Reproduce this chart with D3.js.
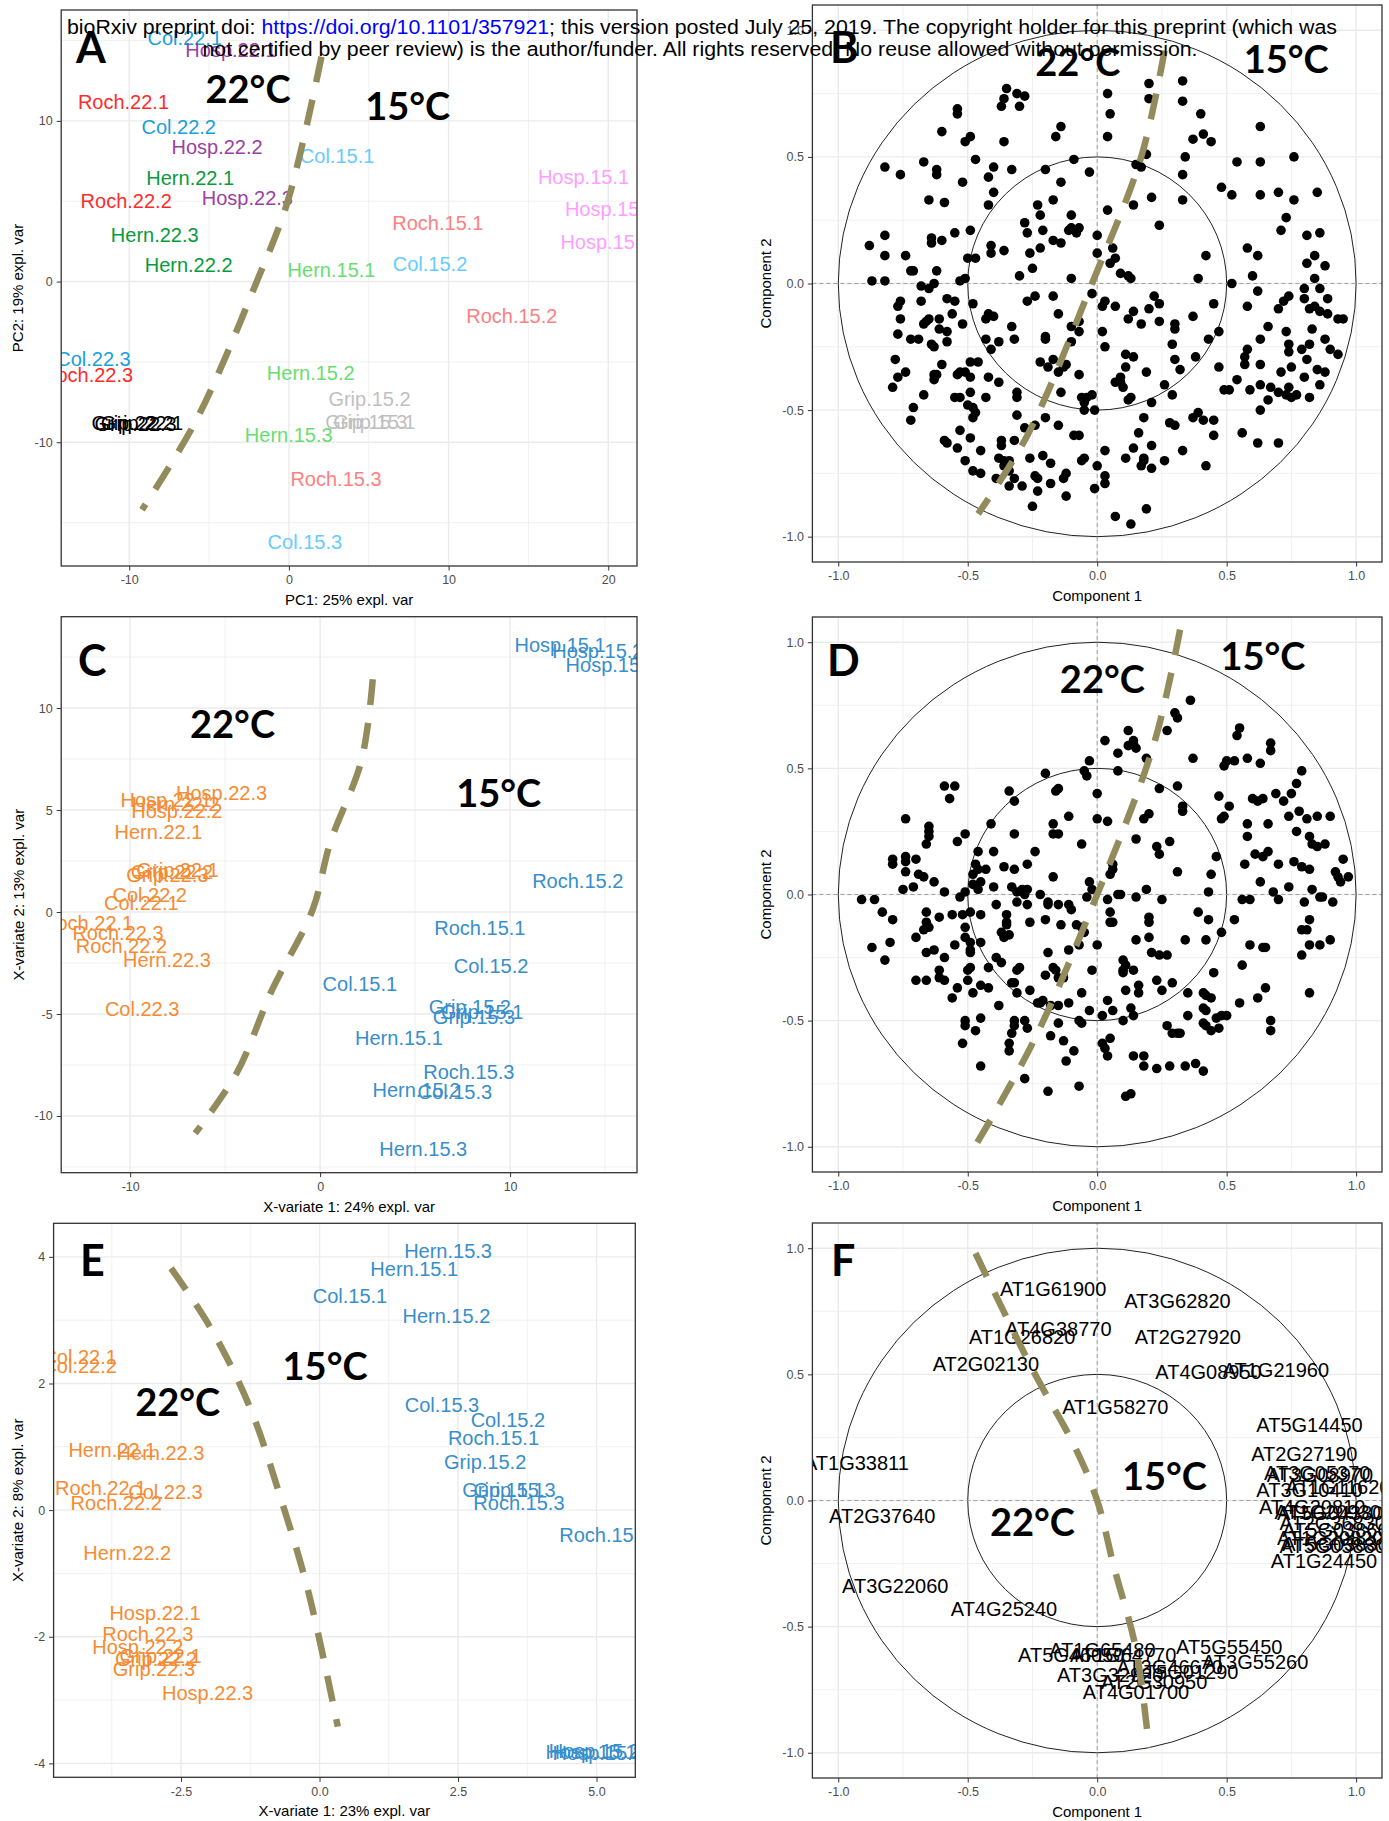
<!DOCTYPE html>
<html>
<head>
<meta charset="utf-8">
<script src="https://cdn.jsdelivr.net/npm/d3@7"></script>
<style>
  body { margin: 0; background: #fff; }
  svg text { font-family: "Liberation Sans", Arial, sans-serif; }
</style>
</head>
<body>
<svg id="fig" width="1389" height="1821"></svg>
<script>
// ---------------------------------------------------------------------------
// Sample scores (30 samples: 5 accessions x 2 temperatures x 3 replicates)
// ---------------------------------------------------------------------------
const sampleNames = [
  "Col.22.1","Col.22.2","Col.22.3","Grip.22.1","Grip.22.2","Grip.22.3",
  "Hern.22.1","Hern.22.2","Hern.22.3","Hosp.22.1","Hosp.22.2","Hosp.22.3",
  "Roch.22.1","Roch.22.2","Roch.22.3",
  "Col.15.1","Col.15.2","Col.15.3","Grip.15.1","Grip.15.2","Grip.15.3",
  "Hern.15.1","Hern.15.2","Hern.15.3","Hosp.15.1","Hosp.15.2","Hosp.15.3",
  "Roch.15.1","Roch.15.2","Roch.15.3"
];

// A: PCA
const pcaPC1 = [-6.52,-6.90,-12.24,-9.20,-9.79,-9.60, -6.18,-6.28,-8.40, -3.63,-4.50,-2.60, -10.36,-10.19,-12.61,
                3.02,8.84,1.00, 5.35,5.05,4.85, 2.67,1.37,-0.01, 18.45,20.14,19.86, 9.33,13.96,2.95];
const pcaPC2 = [15.17,9.64,-4.83,-8.81,-8.81,-8.85, 6.43,1.04,2.90, 14.41,8.36,5.19, 11.19,5.04,-5.80,
                7.82,1.08,-16.17, -8.71,-7.30,-8.71, 0.73,-5.70,-9.53, 6.49,4.52,2.49, 3.67,-2.13,-12.29];

// C: PLS-DA
const plsX1 = [-9.41,-8.97,-9.37,-7.50,-7.80,-8.04, -8.51,-7.60,-8.06, -8.11,-7.54,-5.19, -12.24,-10.46,-10.64,
               2.09,9.00,7.09, 8.53,7.88,8.10, 4.15,5.07,5.43, 12.63,14.62,15.32, 8.41,13.56,7.83];
const plsX2 = [0.43,0.83,-4.72,2.06,1.95,1.85, 3.94,5.30,-2.35, 5.49,4.95,5.85, -0.55,-1.67,-1.01,
               -3.50,-2.65,-8.81, -4.89,-4.67,-5.16, -6.19,-8.73,-11.63, 13.09,12.81,12.14, -0.77,1.54,-7.83];

// E: sPLS-DA
const splsX1 = [-4.33,-4.33,-2.78,-2.87,-2.95,-2.99, -3.74,-3.47,-2.87, -2.97,-3.28,-2.02, -3.95,-3.67,-3.10,
                0.55,3.40,2.21, 3.32,2.99,3.52, 1.71,2.29,2.32, 4.90,4.96,5.03, 3.14,5.15,3.60];
const splsX2 = [2.42,2.28,0.29,-2.30,-2.35,-2.50, 0.95,-0.68,0.91, -1.62,-2.16,-2.89, 0.35,0.11,-1.95,
                3.38,1.43,1.66, 0.32,0.76,0.32, 3.81,3.07,4.10, -3.82,-3.80,-3.84, 1.14,-0.39,0.11];

// Per accession/temperature label colours (PCA) and per-temperature colours (PLS-DA)
const pcaColours = {
  "Col.22":"#1A9FDB","Col.15":"#66CCFF","Grip.22":"#000000","Grip.15":"#BFBFBF",
  "Hern.22":"#0A9A3C","Hern.15":"#6ADD70","Hosp.22":"#9B3FA5","Hosp.15":"#FF9EFF",
  "Roch.22":"#FF2B2B","Roch.15":"#FF8080"
};
const tempColours = { "22":"#F68B33", "15":"#388ECC" };

// ---------------------------------------------------------------------------
// B: correlation circle, PCA variables
// ---------------------------------------------------------------------------
const pcaVarC1 = [0.33,0.20,-0.35,-0.31,-0.28,0.04,-0.36,0.20,0.33,-0.37,-0.30,-0.54,-0.54,0.05,0.40,-0.14,0.63,-0.60,0.41,-0.49,
-0.51,-0.16,0.04,0.37,0.44,-0.36,0.19,0.34,-0.09,-0.47,-0.67,0.54,0.63,0.76,0.15,0.17,-0.82,-0.40,-0.33,-0.62,
-0.20,-0.76,-0.62,-0.03,0.33,-0.42,-0.14,-0.52,0.48,-0.40,-0.65,0.52,0.63,0.70,0.85,0.21,-0.17,0.76,-0.59,0.33,
0.14,-0.42,-0.23,0.04,-0.22,-0.10,-0.28,0.73,0.24,-0.10,-0.07,-0.08,-0.21,-0.11,0.71,0.86,-0.82,-0.55,-0.49,-0.27,
0.00,0.81,-0.88,-0.64,-0.60,-0.64,-0.17,-0.14,-0.41,-0.22,-0.36,0.58,0.06,0.07,-0.26,-0.41,-0.74,-0.82,0.00,0.42,
0.62,0.84,-0.50,-0.47,0.05,0.81,0.88,-0.25,-0.62,-0.72,-0.71,0.09,0.12,0.13,-0.30,0.60,0.39,-0.53,-0.51,-0.10,
-0.82,-0.87,-0.68,-0.65,-0.63,0.52,0.84,0.80,0.86,0.62,-0.02,0.74,-0.17,-0.24,0.22,-0.58,-0.55,0.72,-0.76,-0.68,
-0.27,0.03,0.24,-0.48,0.45,0.80,0.89,-0.77,0.02,0.07,0.20,0.14,0.84,0.82,0.86,0.89,0.58,0.70,-0.56,-0.42,
-0.40,-0.76,-0.43,-0.66,-0.65,-0.61,-0.15,0.12,0.37,0.93,0.95,-0.67,-0.52,0.17,0.24,0.30,-0.10,-0.07,-0.33,0.66,
0.83,-0.61,-0.58,0.02,0.30,0.47,-0.07,0.73,-0.77,0.63,0.88,-0.20,-0.20,-0.43,-0.32,0.43,-0.38,-0.10,-0.72,-0.69,
-0.64,-0.63,-0.58,0.29,0.74,0.82,-0.41,0.03,0.58,0.79,0.90,0.74,0.93,0.11,0.14,0.57,0.81,-0.78,-0.49,0.30,
0.38,-0.22,-0.17,-0.12,0.57,0.63,-0.60,-0.46,-0.19,-0.13,0.11,0.47,0.75,-0.74,-0.53,-0.51,0.19,0.32,0.71,0.85,
0.88,-0.77,-0.63,-0.62,-0.54,-0.49,-0.42,-0.15,-0.07,0.09,-0.63,-0.38,0.09,0.54,0.80,0.07,0.26,0.86,-0.79,0.10,
0.63,0.67,0.74,0.49,0.51,0.59,-0.31,-0.14,0.70,0.75,0.77,-0.49,0.82,-0.53,-0.55,-0.43,-0.31,-0.67,0.29,0.73,
-0.02,-0.04,-0.06,-0.05,0.13,0.12,-0.50,-0.48,-0.71,0.66,0.21,0.63,-0.01,-0.05,-0.47,-0.48,-0.31,-0.20,0.18,0.39,
0.37,0.41,0.45,-0.72,0.28,0.30,-0.15,-0.28,-0.24,-0.53,0.16,0.56,-0.09,-0.07,0.45,-0.49,-0.59,-0.58,-0.37,-0.32,
0.62,0.70,0.14,0.33,0.03,-0.54,-0.37,-0.45,-0.21,0.21,0.11,-0.26,0.18,0.26,-0.05,-0.06,-0.51,-0.38,-0.36,-0.34,
-0.36,0.18,0.17,0.42,-0.18,0.00,-0.48,-0.45,-0.32,-0.34,-0.12,-0.24,-0.34,-0.23,-0.13,0.03,0.21,-0.18,-0.39,-0.29,
0.03,-0.01,-0.23,-0.12,-0.25,0.19,0.07,0.13];
const pcaVarC2 = [0.80,0.79,0.77,0.75,0.74,0.75,0.73,0.73,0.72,0.70,0.70,0.69,0.67,0.67,0.67,0.62,0.62,0.60,0.59,0.58,
0.56,0.58,0.58,0.57,0.56,0.56,0.51,0.50,0.49,0.49,0.48,0.48,0.48,0.50,0.47,0.46,0.46,0.46,0.45,0.45,
0.45,0.43,0.43,0.44,0.43,0.42,0.40,0.40,0.38,0.36,0.33,0.35,0.35,0.36,0.36,0.34,0.33,0.33,0.32,0.33,
0.31,0.31,0.31,0.29,0.27,0.27,0.24,0.26,0.23,0.22,0.22,0.20,0.21,0.21,0.21,0.20,0.19,0.20,0.21,0.20,
0.19,0.19,0.15,0.18,0.17,0.16,0.17,0.16,0.15,0.14,0.13,0.14,0.14,0.10,0.12,0.12,0.11,0.11,0.12,0.11,
0.11,0.11,0.10,0.10,0.08,0.08,0.07,0.06,0.05,0.05,0.05,0.04,0.03,0.02,0.03,0.03,0.02,0.01,0.02,0.02,
0.01,0.01,-0.01,-0.02,0.00,0.00,0.02,-0.02,-0.02,-0.03,-0.04,-0.05,-0.05,-0.05,-0.05,-0.06,-0.07,-0.07,-0.07,-0.07,
-0.07,-0.07,-0.08,-0.08,-0.08,-0.06,-0.06,-0.09,-0.09,-0.09,-0.10,-0.11,-0.09,-0.10,-0.11,-0.12,-0.09,-0.10,-0.12,-0.12,
-0.13,-0.14,-0.14,-0.15,-0.14,-0.14,-0.12,-0.14,-0.13,-0.14,-0.14,-0.16,-0.16,-0.16,-0.15,-0.16,-0.17,-0.15,-0.17,-0.17,
-0.18,-0.18,-0.19,-0.19,-0.18,-0.19,-0.19,-0.19,-0.20,-0.22,-0.22,-0.21,-0.22,-0.22,-0.22,-0.22,-0.23,-0.23,-0.22,-0.22,
-0.24,-0.25,-0.23,-0.24,-0.24,-0.24,-0.26,-0.25,-0.26,-0.26,-0.26,-0.27,-0.28,-0.28,-0.29,-0.29,-0.30,-0.30,-0.31,-0.30,
-0.29,-0.31,-0.30,-0.32,-0.32,-0.32,-0.32,-0.31,-0.33,-0.33,-0.33,-0.33,-0.33,-0.35,-0.35,-0.35,-0.35,-0.34,-0.35,-0.34,
-0.35,-0.37,-0.36,-0.36,-0.36,-0.37,-0.37,-0.35,-0.36,-0.37,-0.38,-0.39,-0.39,-0.38,-0.37,-0.39,-0.40,-0.40,-0.41,-0.41,
-0.40,-0.41,-0.41,-0.42,-0.42,-0.42,-0.43,-0.43,-0.43,-0.45,-0.44,-0.43,-0.45,-0.45,-0.45,-0.45,-0.45,-0.44,-0.44,-0.44,
-0.44,-0.45,-0.45,-0.47,-0.45,-0.46,-0.48,-0.49,-0.49,-0.46,-0.47,-0.50,-0.50,-0.50,-0.51,-0.53,-0.52,-0.53,-0.53,-0.51,
-0.53,-0.54,-0.54,-0.54,-0.55,-0.56,-0.56,-0.57,-0.56,-0.58,-0.59,-0.59,-0.60,-0.60,-0.60,-0.61,-0.62,-0.63,-0.62,-0.62,
-0.63,-0.63,-0.65,-0.66,-0.66,-0.65,-0.64,-0.66,-0.68,-0.64,-0.69,-0.69,-0.69,-0.70,-0.69,-0.70,-0.70,-0.69,-0.70,-0.70,
-0.72,-0.70,-0.72,-0.72,-0.71,-0.72,-0.74,-0.75,-0.77,-0.74,-0.75,-0.76,-0.80,-0.77,-0.77,-0.76,-0.73,-0.79,-0.77,-0.80,
-0.79,-0.81,-0.82,-0.84,-0.88,-0.89,-0.92,-0.95];

// ---------------------------------------------------------------------------
// D: correlation circle, PLS-DA variables
// ---------------------------------------------------------------------------
const plsVarC1 = [0.36,0.30,0.31,0.27,0.55,0.54,0.12,0.67,0.03,0.14,0.14,0.12,0.15,0.67,0.08,0.37,0.53,0.58,0.50,0.49,
0.63,0.19,-0.03,-0.05,-0.04,-0.20,0.08,0.79,0.77,-0.59,-0.55,-0.57,-0.34,-0.15,-0.16,0.31,0.24,0.00,0.75,0.69,
0.60,0.62,0.64,0.72,0.47,0.51,-0.32,0.33,0.33,0.18,0.20,0.48,0.49,0.74,0.78,0.85,0.90,0.81,-0.74,-0.11,
0.00,0.04,0.58,0.66,-0.17,-0.41,-0.65,-0.65,-0.65,-0.51,-0.32,-0.17,-0.15,0.77,0.82,0.83,0.85,0.88,0.15,0.58,
-0.66,-0.54,-0.06,0.23,0.24,0.28,0.61,0.64,0.66,0.95,-0.46,-0.40,-0.24,-0.79,-0.79,-0.74,-0.74,-0.70,-0.74,0.06,
0.46,0.57,0.70,0.76,0.79,0.82,0.92,0.93,0.97,-0.47,-0.46,-0.43,-0.36,-0.32,-0.27,0.06,0.31,0.44,-0.69,-0.67,
-0.48,-0.45,-0.17,0.05,0.94,0.74,0.63,0.83,-0.71,-0.63,-0.75,-0.48,-0.46,-0.40,-0.33,-0.29,-0.27,-0.03,-0.02,0.19,
0.43,0.68,0.70,0.86,0.87,0.91,0.56,0.80,-0.91,-0.86,-0.59,-0.51,-0.53,-0.31,-0.28,-0.22,-0.31,-0.27,-0.39,-0.19,
-0.19,-0.15,-0.11,-0.10,-0.04,0.04,0.08,0.15,0.25,0.09,0.59,-0.83,-0.79,-0.66,-0.56,-0.52,-0.49,-0.45,-0.35,0.05,
0.06,0.05,0.39,0.43,0.53,0.20,0.20,-0.66,-0.65,-0.61,-0.67,-0.35,-0.35,-0.26,-0.20,-0.14,-0.08,-0.05,-0.06,0.48,
0.81,0.79,0.82,-0.51,-0.70,-0.63,-0.66,-0.59,-0.80,-0.87,-0.82,-0.55,-0.51,-0.49,-0.49,-0.49,-0.45,-0.36,-0.37,-0.34,
-0.19,-0.11,-0.07,0.00,0.15,0.20,0.21,0.24,0.27,0.34,0.42,0.59,0.64,0.65,0.82,0.86,0.90,0.79,-0.39,-0.37,
-0.30,-0.31,-0.17,-0.16,-0.13,-0.02,0.10,0.11,0.10,0.10,0.14,-0.61,-0.61,-0.49,-0.50,-0.42,0.56,-0.20,-0.15,-0.32,
-0.70,-0.66,-0.59,-0.50,-0.45,-0.42,-0.54,-0.48,-0.33,-0.31,-0.26,-0.06,0.11,0.16,0.16,0.23,0.25,0.29,0.35,0.41,
0.42,0.44,0.45,0.65,0.62,0.55,0.82,-0.56,-0.38,-0.23,-0.22,-0.21,-0.18,-0.15,-0.11,0.04,-0.03,0.02,0.06,0.10,
0.13,0.14,0.41,0.42,0.41,0.42,0.44,0.46,0.48,0.50,0.47,0.67,0.67,-0.51,-0.51,-0.45,-0.47,-0.52,-0.32,-0.32,
-0.28,-0.27,-0.33,-0.34,-0.34,-0.15,-0.07,-0.06,-0.18,-0.13,-0.09,-0.12,0.02,0.05,0.03,0.04,0.27,0.29,0.31,0.32,
0.35,0.38,0.41,0.34,0.28,0.23,0.14,0.18,0.18,-0.45,-0.28,-0.19,-0.07,0.11,0.13];
const plsVarC2 = [0.77,0.72,0.70,0.65,0.66,0.63,0.65,0.60,0.61,0.61,0.60,0.59,0.58,0.57,0.56,0.54,0.53,0.54,0.53,0.51,
0.52,0.54,0.53,0.49,0.47,0.48,0.49,0.49,0.44,0.43,0.43,0.38,0.41,0.42,0.41,0.43,0.42,0.40,0.40,0.40,
0.38,0.37,0.38,0.37,0.39,0.35,0.37,0.35,0.33,0.30,0.32,0.30,0.31,0.31,0.33,0.31,0.31,0.30,0.30,0.31,
0.30,0.29,0.28,0.28,0.28,0.28,0.27,0.25,0.23,0.24,0.24,0.24,0.24,0.25,0.23,0.20,0.19,0.20,0.22,0.23,
0.20,0.21,0.20,0.19,0.16,0.21,0.16,0.15,0.17,0.14,0.17,0.17,0.17,0.14,0.12,0.15,0.13,0.14,0.09,0.12,
0.15,0.12,0.12,0.13,0.11,0.10,0.09,0.07,0.07,0.12,0.10,0.10,0.11,0.10,0.12,0.10,0.09,0.08,0.08,0.07,
0.08,0.05,0.07,0.08,0.05,0.03,0.05,0.02,0.03,0.05,0.02,0.04,0.02,0.03,0.03,0.02,0.02,0.05,0.02,0.02,
0.01,0.01,-0.02,-0.01,-0.01,-0.03,-0.02,-0.03,-0.02,-0.02,0.01,0.01,-0.01,0.01,0.00,0.00,-0.03,-0.04,-0.04,-0.03,
-0.04,-0.04,-0.04,-0.06,-0.01,-0.02,0.00,-0.01,-0.02,0.00,-0.02,-0.07,-0.10,-0.07,-0.08,-0.08,-0.07,-0.08,-0.08,-0.07,
-0.11,-0.11,-0.07,-0.10,-0.10,-0.09,-0.11,-0.11,-0.13,-0.09,-0.14,-0.11,-0.12,-0.11,-0.10,-0.12,-0.12,-0.15,-0.13,-0.15,
-0.14,-0.14,-0.10,-0.13,-0.17,-0.22,-0.23,-0.25,-0.19,-0.21,-0.26,-0.20,-0.17,-0.19,-0.22,-0.23,-0.19,-0.17,-0.15,-0.16,
-0.23,-0.22,-0.20,-0.20,-0.18,-0.17,-0.23,-0.24,-0.24,-0.18,-0.18,-0.20,-0.21,-0.21,-0.20,-0.20,-0.18,-0.24,-0.25,-0.27,
-0.29,-0.30,-0.29,-0.30,-0.33,-0.30,-0.26,-0.28,-0.30,-0.31,-0.30,-0.30,-0.33,-0.29,-0.30,-0.29,-0.28,-0.32,-0.33,-0.35,
-0.34,-0.34,-0.34,-0.34,-0.36,-0.37,-0.37,-0.39,-0.35,-0.39,-0.38,-0.39,-0.38,-0.36,-0.39,-0.34,-0.38,-0.35,-0.39,-0.39,
-0.40,-0.41,-0.31,-0.37,-0.41,-0.43,-0.39,-0.41,-0.44,-0.43,-0.43,-0.42,-0.44,-0.44,-0.43,-0.42,-0.46,-0.48,-0.46,-0.50,
-0.45,-0.48,-0.45,-0.46,-0.51,-0.52,-0.54,-0.49,-0.48,-0.48,-0.53,-0.50,-0.54,-0.50,-0.52,-0.49,-0.54,-0.59,-0.50,-0.52,
-0.50,-0.53,-0.55,-0.59,-0.62,-0.51,-0.50,-0.51,-0.56,-0.58,-0.62,-0.66,-0.59,-0.57,-0.61,-0.64,-0.52,-0.55,-0.55,-0.55,
-0.48,-0.67,-0.70,-0.68,-0.68,-0.69,-0.64,-0.64,-0.68,-0.68,-0.73,-0.78,-0.76,-0.80,-0.79];

// ---------------------------------------------------------------------------
// F: correlation circle, sPLS-DA selected genes
// ---------------------------------------------------------------------------
const geneNames = ["AT1G61900","AT3G62820","AT1G26820","AT4G38770","AT2G27920","AT2G02130","AT4G08950","AT1G21960",
  "AT1G58270","AT5G14450","AT1G33811","AT2G27190","AT3G05370","AT3G08970","AT1G11620","AT3G10410","AT4G20810",
  "AT1G20930","AT5G04380","AT2G36830","AT5G03860","AT1G20820","AT5G05880","AT5G03830","AT1G24450",
  "AT2G37640","AT3G22060","AT4G25240","AT5G55450","AT3G55260","AT5G46050","AT1G65480","AT1G64770",
  "AT2G46670","AT5G01290","AT3G32920","AT2G30950","AT4G01700"];
const geneC1 = [-0.17,0.31,-0.29,-0.15,0.35,-0.43,0.43,0.69, 0.07,0.82,-0.93,0.80,0.85,0.86,0.93,0.82,0.83,
  0.89,0.90,0.91,0.92,0.90,0.91,0.92,0.876, -0.83,-0.78,-0.36,0.51,0.61,-0.10,0.02,0.10, 0.28,0.34,0.05,0.22,0.15];
const geneC2 = [0.84,0.79,0.65,0.68,0.65,0.54,0.51,0.52, 0.37,0.30,0.15,0.185,0.11,0.10,0.055,0.042,-0.024,
  -0.043,-0.05,-0.09,-0.116,-0.149,-0.18,-0.17,-0.24, -0.06,-0.34,-0.43,-0.58,-0.64,-0.61,-0.59,-0.61,
  -0.66,-0.68,-0.69,-0.72,-0.76];

// Hand-drawn separators between the temperature groups (in each panel's data units)
const sepA = [[2.04,13.99],[-0.05,5.08],[-2.01,0],[-5.79,-8.6],[-9.2,-14.2]];
const sepB = [[0.26,0.92],[0.17,0.50],[-0.02,0.0],[-0.27,-0.60],[-0.46,-0.91]];
const sepC = [[2.77,11.41],[2.18,7.45],[0.52,3.37],[-0.4,0.1],[-2.53,-3.82],[-4.39,-7.89],[-6.58,-10.85]];
const sepD = [[0.32,1.05],[0.22,0.60],[0.0,0.0],[-0.25,-0.59],[-0.49,-1.03]];
const sepE = [[-2.68,3.82],[-1.98,2.90],[-1.26,1.63],[-0.69,0.16],[-0.21,-1.26],[0.33,-3.42]];
const sepF = [[-0.47,0.98],[-0.25,0.52],[-0.085,0.21],[0.0,0.0],[0.064,-0.26],[0.15,-0.59],[0.20,-0.98]];

// Temperature annotations: [label, x, y] in data units
const tempA = [["22°C",-2.56,11.11],["15°C",7.44,10.06]];
const tempB = [["22°C",-0.075,0.82],["15°C",0.73,0.83]];
const tempC = [["22°C",-4.61,8.53],["15°C",9.4,5.16]];
const tempD = [["22°C",0.02,0.80],["15°C",0.64,0.89]];
const tempE = [["22°C",-2.56,1.49],["15°C",0.10,2.05]];
const tempF = [["15°C",0.26,0.04],["22°C",-0.25,-0.14]];

// Axis ticks
const ticksUnit = [-1,-0.5,0,0.5,1];
const minorUnit = [-0.75,-0.25,0.25,0.75];

// ---------------------------------------------------------------------------
const svg = d3.select("#fig");
svg.append("rect").attr("width",1389).attr("height",1821).attr("fill","#fff");
const defs = svg.append("defs");

const SEP_COLOUR = "#948B5D";
const fmt1 = d => d.toFixed(1);
const fmt0 = d => String(d);

function panel(c) {
  const x = d3.scaleLinear().domain(c.xDomain).range([c.left, c.right]);
  const y = d3.scaleLinear().domain(c.yDomain).range([c.bottom, c.top]);
  const g = svg.append("g");
  defs.append("clipPath").attr("id","clip"+c.id).append("rect")
    .attr("x",c.left).attr("y",c.top).attr("width",c.right-c.left).attr("height",c.bottom-c.top);
  const inner = g.append("g").attr("clip-path",`url(#clip${c.id})`);

  // grid
  const grid = inner.append("g").attr("stroke","#EBEBEB");
  grid.selectAll(".vmin").data(c.xMinor).join("line")
    .attr("x1",x).attr("x2",x).attr("y1",c.top).attr("y2",c.bottom).attr("stroke-width",0.7);
  grid.selectAll(".hmin").data(c.yMinor).join("line")
    .attr("y1",y).attr("y2",y).attr("x1",c.left).attr("x2",c.right).attr("stroke-width",0.7);
  grid.selectAll(".vmaj").data(c.xMajor).join("line")
    .attr("x1",x).attr("x2",x).attr("y1",c.top).attr("y2",c.bottom).attr("stroke-width",1.4);
  grid.selectAll(".hmaj").data(c.yMajor).join("line")
    .attr("y1",y).attr("y2",y).attr("x1",c.left).attr("x2",c.right).attr("stroke-width",1.4);

  const finish = () => {
    g.append("rect").attr("x",c.left).attr("y",c.top)
      .attr("width",c.right-c.left).attr("height",c.bottom-c.top)
      .attr("fill","none").attr("stroke","#333").attr("stroke-width",1.3);
    const ax = g.append("g").attr("transform",`translate(0,${c.bottom})`)
      .call(d3.axisBottom(x).tickValues(c.xMajor).tickFormat(c.xFmt).tickSize(4.5).tickPadding(5));
    const ay = g.append("g").attr("transform",`translate(${c.left},0)`)
      .call(d3.axisLeft(y).tickValues(c.yMajor).tickFormat(c.yFmt).tickSize(4.5).tickPadding(4));
    [ax, ay].forEach(a => {
      a.select(".domain").remove();
      a.attr("font-size",12.5).attr("font-family",'"Liberation Sans", Arial, sans-serif');
      a.selectAll("line").attr("stroke","#333");
      a.selectAll("text").attr("fill","#4D4D4D");
    });
    g.append("text").attr("x",(c.left+c.right)/2).attr("y",c.bottom+39)
      .attr("text-anchor","middle").attr("font-size",15).attr("fill","#000").text(c.xTitle);
    g.append("text").attr("transform",`translate(${c.yTitleX},${(c.top+c.bottom)/2}) rotate(-90)`)
      .attr("text-anchor","middle").attr("dy","0.35em").attr("font-size",15).attr("fill","#000").text(c.yTitle);
    // panel letter
    g.append("text").attr("x",c.letterX).attr("y",c.letterY)
      .style("font-family","Lato, 'Open Sans', sans-serif").attr("font-weight",700)
      .attr("font-size",43).attr("fill","#000").text(c.letter);
  };
  return {x, y, g, inner, finish};
}

function separator(p, pts) {
  p.inner.append("path")
    .attr("d", d3.line().x(d => p.x(d[0])).y(d => p.y(d[1])).curve(d3.curveCatmullRom)(pts))
    .attr("fill","none").attr("stroke",SEP_COLOUR).attr("stroke-width",6.5)
    .attr("stroke-dasharray","26,18");
}
function temps(p, list) {
  p.inner.selectAll(null).data(list).join("text")
    .attr("x", d => p.x(d[1])).attr("y", d => p.y(d[2]))
    .attr("text-anchor","middle")
    .style("font-family","Lato, 'Open Sans', sans-serif").attr("font-weight",700)
    .attr("font-size",38).attr("fill","#000").text(d => d[0]);
}
function sampleLabels(p, xs, ys, colourOf) {
  p.inner.selectAll(null).data(sampleNames).join("text")
    .attr("x", (d,i) => p.x(xs[i])).attr("y", (d,i) => p.y(ys[i]))
    .attr("text-anchor","middle").attr("dy","0.36em").attr("font-size",20)
    .attr("fill", d => colourOf(d)).text(d => d);
}
function circleFrame(p) {
  [1, 0.5].forEach(r => {
    p.inner.append("ellipse").attr("cx",p.x(0)).attr("cy",p.y(0))
      .attr("rx",p.x(r)-p.x(0)).attr("ry",p.y(0)-p.y(r))
      .attr("fill","none").attr("stroke","#222").attr("stroke-width",1);
  });
  p.inner.append("line").attr("x1",p.x(-1.1)).attr("x2",p.x(1.1)).attr("y1",p.y(0)).attr("y2",p.y(0))
    .attr("stroke","#9A9A9A").attr("stroke-width",0.9).attr("stroke-dasharray","4,3");
  p.inner.append("line").attr("y1",p.y(-1.1)).attr("y2",p.y(1.1)).attr("x1",p.x(0)).attr("x2",p.x(0))
    .attr("stroke","#9A9A9A").attr("stroke-width",0.9).attr("stroke-dasharray","4,3");
}
function dots(p, xs, ys) {
  p.inner.selectAll(null).data(xs).join("circle")
    .attr("cx", d => p.x(d)).attr("cy", (d,i) => p.y(ys[i]))
    .attr("r",4.8).attr("fill","#000");
}

const groupOf = n => { const s = n.split("."); return s[0] + "." + s[1]; };
const tempOf = n => n.split(".")[1];

const unitCfg = {
  xDomain:[-1.1,1.1], yDomain:[-1.1,1.1], xMajor:ticksUnit, yMajor:ticksUnit,
  xMinor:minorUnit, yMinor:minorUnit, xFmt:fmt1, yFmt:fmt1,
  left:812.4, right:1382, xTitle:"Component  1", yTitle:"Component  2", yTitleX:766
};

// ----- A -----
const pA = panel({id:"A", left:61.2, right:637, top:10, bottom:566,
  xDomain:[-14.26,21.8], yDomain:[-17.7,16.9], xMajor:[-10,0,10,20], xMinor:[-5,5,15],
  yMajor:[-10,0,10], yMinor:[-15,-5,5,15], xFmt:fmt0, yFmt:fmt0,
  xTitle:"PC1: 25% expl. var", yTitle:"PC2: 19% expl. var", yTitleX:18,
  letter:"A", letterX:76, letterY:63});
sampleLabels(pA, pcaPC1, pcaPC2, n => pcaColours[groupOf(n)]);
separator(pA, sepA);
temps(pA, tempA);
pA.finish();

// ----- B -----
const pB = panel(Object.assign({}, unitCfg, {id:"B", top:5, bottom:562, letter:"B", letterX:830, letterY:63}));
circleFrame(pB);
dots(pB, pcaVarC1, pcaVarC2);
separator(pB, sepB);
temps(pB, tempB);
pB.finish();

// ----- C -----
const pC = panel({id:"C", left:61.2, right:637, top:616.7, bottom:1172.7,
  xDomain:[-13.63,16.68], yDomain:[-12.78,14.48], xMajor:[-10,0,10], xMinor:[-5,5,15],
  yMajor:[-10,-5,0,5,10], yMinor:[-12.5,-7.5,-2.5,2.5,7.5,12.5], xFmt:fmt0, yFmt:fmt0,
  xTitle:"X-variate 1: 24% expl. var", yTitle:"X-variate 2: 13% expl. var", yTitleX:19,
  letter:"C", letterX:78, letterY:676});
sampleLabels(pC, plsX1, plsX2, n => tempColours[tempOf(n)]);
separator(pC, sepC);
temps(pC, tempC);
pC.finish();

// ----- D -----
const pD = panel(Object.assign({}, unitCfg, {id:"D", top:617, bottom:1172, letter:"D", letterX:827, letterY:676}));
circleFrame(pD);
dots(pD, plsVarC1, plsVarC2);
separator(pD, sepD);
temps(pD, tempD);
pD.finish();

// ----- E -----
const pE = panel({id:"E", left:53.6, right:635.3, top:1223.3, bottom:1777.3,
  xDomain:[-4.8,5.7], yDomain:[-4.22,4.53], xMajor:[-2.5,0,2.5,5], xMinor:[-3.75,-1.25,1.25,3.75],
  yMajor:[-4,-2,0,2,4], yMinor:[-3,-1,1,3], xFmt:fmt1, yFmt:fmt0,
  xTitle:"X-variate 1: 23% expl. var", yTitle:"X-variate 2: 8% expl. var", yTitleX:18,
  letter:"E", letterX:80, letterY:1276});
sampleLabels(pE, splsX1, splsX2, n => tempColours[tempOf(n)]);
separator(pE, sepE);
temps(pE, tempE);
pE.finish();

// ----- F -----
const pF = panel(Object.assign({}, unitCfg, {id:"F", top:1223, bottom:1778, letter:"F", letterX:831, letterY:1276}));
circleFrame(pF);
pF.inner.selectAll(null).data(geneNames).join("text")
  .attr("x", (d,i) => pF.x(geneC1[i])).attr("y", (d,i) => pF.y(geneC2[i]))
  .attr("text-anchor","middle").attr("dy","0.36em").attr("font-size",20).attr("fill","#000")
  .text(d => d);
separator(pF, sepF);
temps(pF, tempF);
pF.finish();

// ----- preprint banner -----
const banner = svg.append("g").attr("font-size",20).attr("fill","#000");
const l1 = banner.append("text").attr("x",702).attr("y",34).attr("text-anchor","middle")
  .attr("textLength",1270).attr("lengthAdjust","spacingAndGlyphs");
l1.append("tspan").text("bioRxiv preprint doi: ");
l1.append("tspan").attr("fill","#0000FF").text("https://doi.org/10.1101/357921");
l1.append("tspan").text("; this version posted July 25, 2019. The copyright holder for this preprint (which was");
banner.append("text").attr("x",700).attr("y",56).attr("text-anchor","middle")
  .attr("textLength",995).attr("lengthAdjust","spacingAndGlyphs")
  .text("not certified by peer review) is the author/funder. All rights reserved. No reuse allowed without permission.");
</script>
</body>
</html>
